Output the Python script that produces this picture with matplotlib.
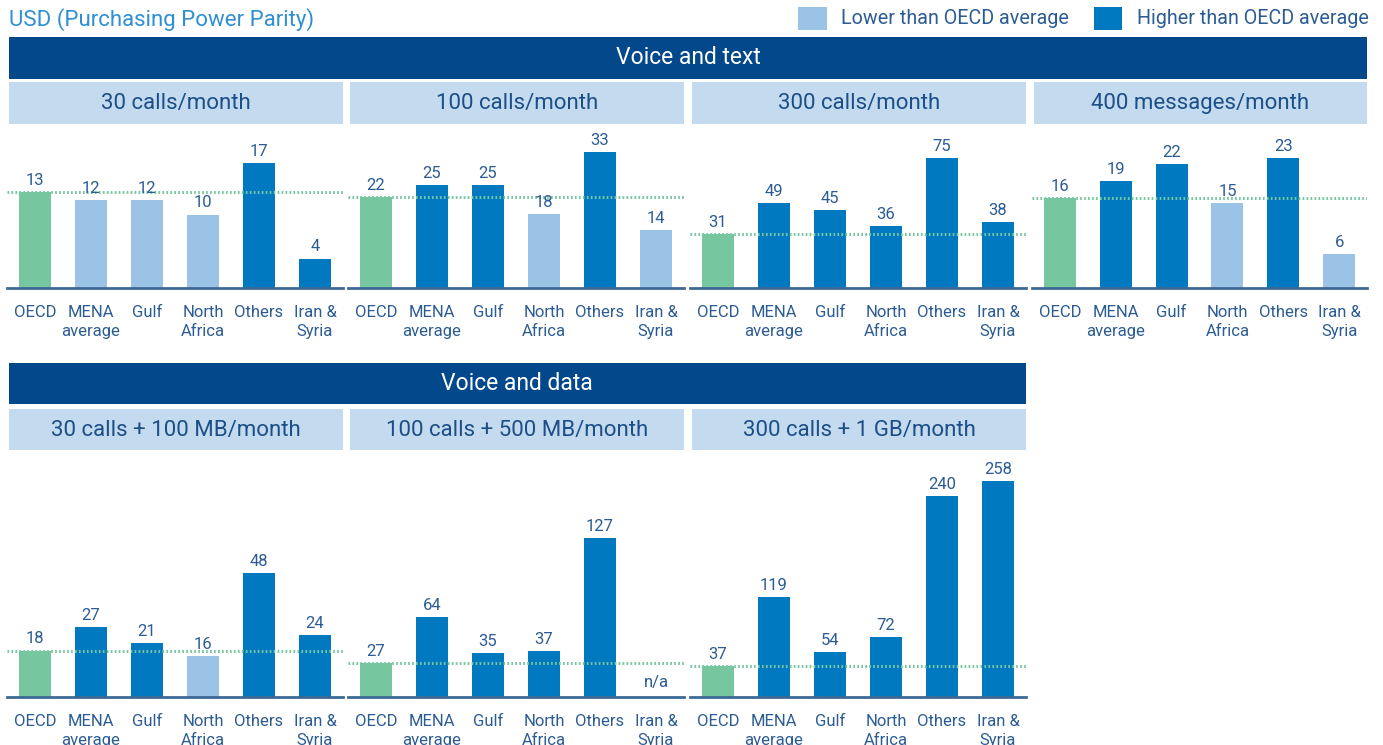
import matplotlib
matplotlib.use("Agg")
import matplotlib.pyplot as plt
from matplotlib.patches import Rectangle

plt.rcParams['font.family'] = ['Roboto', 'DejaVu Sans']

W, H = 1383, 745

# ---------------- data ----------------
categories = ["OECD", "MENA\naverage", "Gulf", "North\nAfrica", "Others", "Iran &\nSyria"]

title_text = "USD (Purchasing Power Parity)"
legend_labels = ["Lower than OECD average", "Higher than OECD average"]

row1_title = "Voice and text"
row1_panels = ["30 calls/month", "100 calls/month", "300 calls/month", "400 messages/month"]
calls30 = [13, 12, 12, 10, 17, 4]
calls100 = [22, 25, 25, 18, 33, 14]
calls300 = [31, 49, 45, 36, 75, 38]
msgs400 = [16, 19, 22, 15, 23, 6]
groups_calls30 = ["oecd", "low", "low", "low", "high", "high"]
groups_calls100 = ["oecd", "high", "high", "low", "high", "low"]
groups_calls300 = ["oecd", "high", "high", "high", "high", "high"]
groups_msgs400 = ["oecd", "high", "high", "low", "high", "low"]

row2_title = "Voice and data"
row2_panels = ["30 calls + 100 MB/month", "100 calls + 500 MB/month", "300 calls + 1 GB/month"]
data30_100mb = [18, 27, 21, 16, 48, 24]
data100_500mb = [27, 64, 35, 37, 127, None]
data300_1gb = [37, 119, 54, 72, 240, 258]
groups_data30 = ["oecd", "high", "high", "low", "high", "high"]
groups_data100 = ["oecd", "high", "high", "high", "high", "na"]
groups_data300 = ["oecd", "high", "high", "high", "high", "high"]

# ---------------- style ----------------
C_GREEN = "#76c6a0"
C_LIGHT = "#9bc3e6"
C_DARK = "#0079c1"
C_HEAD = "#03488a"
C_SUB = "#c3daef"
C_SUBTXT = "#1c4f88"
C_TXT = "#2c5c94"
C_TITLE = "#2f8fd3"
C_AXIS = "#3d6995"
color_map = {"oecd": C_GREEN, "low": C_LIGHT, "high": C_DARK, "na": C_DARK}

fig = plt.figure(figsize=(W / 100, H / 100), dpi=100)
fig.patch.set_facecolor("white")


def rect(x0, y0, x1, y1, color):
    fig.add_artist(Rectangle((x0 / W, 1 - y1 / H), (x1 - x0) / W, (y1 - y0) / H,
                             transform=fig.transFigure, facecolor=color,
                             edgecolor="none", zorder=0))


def ftext(x, y, s, **kw):
    fig.text(x / W, 1 - y / H, s, **kw)


# title and legend
ftext(9, 20, title_text, color=C_TITLE, fontsize=16, va="center", ha="left")
rect(798, 7, 827, 30, C_LIGHT)
ftext(841, 18, legend_labels[0], color=C_TXT, fontsize=14.2, va="center", ha="left")
rect(1094, 7, 1122, 30, C_DARK)
ftext(1137, 18, legend_labels[1], color=C_TXT, fontsize=14.2, va="center", ha="left")

panel_x = [(9, 343), (350, 684), (692, 1026), (1034, 1367)]


def panel(px, base_y, top_y, values, groups, ymax):
    x0, x1 = px
    ax = fig.add_axes([(x0 - 2) / W, 1 - base_y / H, (x1 - x0 + 2) / W, (base_y - top_y) / H])
    xs = list(range(len(values)))
    vals = [v if v is not None else 0 for v in values]
    cols = [color_map[g] for g in groups]
    ax.bar(xs, vals, width=0.575, color=cols, zorder=2)
    ax.set_xlim(-0.5, len(values) - 0.5)
    ax.set_ylim(0, ymax)
    ax.axhline(values[0], color=C_GREEN, lw=2.2, linestyle=(0, (0.55, 0.75)), zorder=3)
    for x, v in zip(xs, values):
        if v is None:
            ax.annotate("n/a", (x, 0), xytext=(0, 5), textcoords="offset points",
                        ha="center", va="bottom", color=C_TXT, fontsize=12)
        else:
            ax.annotate(f"{v}", (x, v), xytext=(0, 3), textcoords="offset points",
                        ha="center", va="bottom", color=C_TXT, fontsize=12, zorder=4)
    for s in ["top", "right", "left"]:
        ax.spines[s].set_visible(False)
    ax.spines["bottom"].set_color(C_AXIS)
    ax.spines["bottom"].set_linewidth(2)
    ax.spines["bottom"].set_zorder(5)
    ax.set_yticks([])
    ax.set_xticks(xs)
    ax.set_xticklabels(categories, color=C_TXT, fontsize=12, linespacing=1.3)
    ax.tick_params(axis="x", length=0, pad=12.5)
    ax.patch.set_alpha(0)
    return ax


# ---- row 1 ----
rect(9, 37, 1367, 79, C_HEAD)
ftext(688, 58, row1_title, color="white", fontsize=16.5, ha="center", va="center")
for (x0, x1), t in zip(panel_x, row1_panels):
    rect(x0, 82, x1, 124, C_SUB)
    ftext((x0 + x1) / 2, 103, t, color=C_SUBTXT, fontsize=16, ha="center", va="center")

row1_vals = [calls30, calls100, calls300, msgs400]
row1_groups = [groups_calls30, groups_calls100, groups_calls300, groups_msgs400]
row1_ymax = [21.5, 38.3, 91.3, 28.0]
for px, v, g, ym in zip(panel_x, row1_vals, row1_groups, row1_ymax):
    panel(px, 288, 130, v, g, ym)

# ---- row 2 ----
rect(9, 363, 1026, 404, C_HEAD)
ftext(517, 383, row2_title, color="white", fontsize=16.5, ha="center", va="center")
for (x0, x1), t in zip(panel_x[:3], row2_panels):
    rect(x0, 409, x1, 450, C_SUB)
    ftext((x0 + x1) / 2, 430, t, color=C_SUBTXT, fontsize=16, ha="center", va="center")

row2_vals = [data30_100mb, data100_500mb, data300_1gb]
row2_groups = [groups_data30, groups_data100, groups_data300]
row2_ymax = [93.8, 193.6, 289.0]
for px, v, g, ym in zip(panel_x[:3], row2_vals, row2_groups, row2_ymax):
    panel(px, 697, 455, v, g, ym)

fig.savefig("out.png", dpi=100)
